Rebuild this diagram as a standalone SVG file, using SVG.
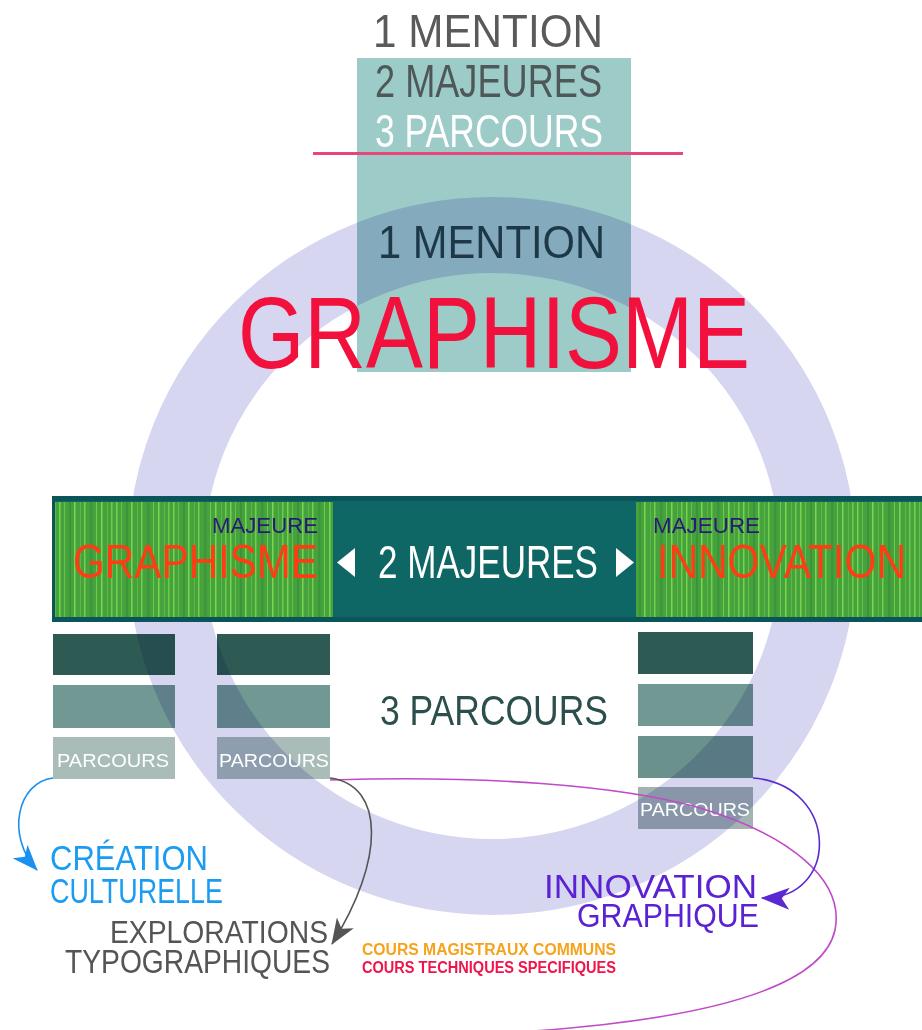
<svg xmlns="http://www.w3.org/2000/svg" width="922" height="1030" viewBox="0 0 922 1030">
<style>
text{font-family:"Liberation Sans",Arial,sans-serif;}
.t{font-size:46px;}
.maj{font-size:22px;fill:#2a1a78;}
.majbig{font-size:49px;fill:#ff3c14;}
.pl{font-size:19px;fill:#fff;}
.dk{fill:#2d5b53;}
.md{fill:#719893;}
.lt{fill:#aabcb8;}
.cap{font-size:16px;font-weight:bold;}
.conn{fill:none;stroke-width:1.6;}
</style>
<defs>
<pattern id="stripes" patternUnits="userSpaceOnUse" x="0" y="0" width="57" height="10">
<rect width="57" height="10" fill="#45a23c"/>
<rect x="2" width="1.5" height="10" fill="#78d24c"/>
<rect x="7" width="1" height="10" fill="#66c246"/>
<rect x="12" width="2" height="10" fill="#3a943a"/>
<rect x="17" width="1.5" height="10" fill="#7ad64c"/>
<rect x="23" width="1" height="10" fill="#5fb844"/>
<rect x="27" width="1.5" height="10" fill="#74cf4a"/>
<rect x="33" width="2.5" height="10" fill="#3d963b"/>
<rect x="39" width="1" height="10" fill="#6ccb48"/>
<rect x="44" width="1.5" height="10" fill="#7ad64c"/>
<rect x="50" width="1" height="10" fill="#5fb844"/>
<rect x="54" width="1.5" height="10" fill="#6ccb48"/>
</pattern>
<marker id="ahBlue" markerUnits="userSpaceOnUse" viewBox="0 0 26 20" refX="25" refY="10" markerWidth="26" markerHeight="20" orient="auto"><path d="M0,0 L26,10 L0,20 L7,10 z" fill="#1a90f0"/></marker>
<marker id="ahGray" markerUnits="userSpaceOnUse" viewBox="0 0 26 20" refX="25" refY="10" markerWidth="28" markerHeight="20" orient="auto"><path d="M0,0 L26,10 L0,20 L7,10 z" fill="#555"/></marker>
<marker id="ahPurple" markerUnits="userSpaceOnUse" viewBox="0 0 26 20" refX="25" refY="10" markerWidth="30" markerHeight="22" orient="auto"><path d="M0,0 L26,10 L0,20 L7,10 z" fill="#5a2ad0"/></marker>
</defs>
<rect width="922" height="1030" fill="#fff"/>

<g id="top-box">
<rect x="357" y="58" width="274" height="314" fill="#9dcbc8"/>
</g>

<g id="parcours-graphisme-1">
<rect class="dk" x="53" y="634" width="122" height="41"/>
<rect class="md" x="53" y="685" width="122" height="43"/>
<rect class="lt" x="53" y="737" width="122" height="42"/>
</g>
<g id="parcours-graphisme-2">
<rect class="dk" x="217" y="634" width="113" height="41"/>
<rect class="md" x="217" y="685" width="113" height="43"/>
<rect class="lt" x="217" y="737" width="113" height="42"/>
</g>
<g id="parcours-innovation">
<rect class="dk" x="638" y="632" width="115" height="42"/>
<rect class="md" x="638" y="684" width="115" height="42"/>
<rect fill="#6a918c" x="638" y="736" width="115" height="42"/>
<rect fill="#a3b3b3" x="638" y="787" width="115" height="42"/>
</g>

<g id="ring" style="mix-blend-mode:multiply">
<ellipse cx="492" cy="556" rx="326" ry="321" fill="none" stroke="#d6d6f1" stroke-width="76"/>
</g>

<g id="majeures-band">
<rect x="52" y="496" width="870" height="126" fill="#0b555a"/>
<rect x="55" y="501" width="867" height="116" fill="#0e6764"/>
<rect x="55" y="502" width="278" height="115" fill="url(#stripes)"/>
<rect x="636" y="502" width="286" height="115" fill="url(#stripes)"/>
</g>

<g id="title-lines">
<text class="t" x="373" y="47" textLength="230" lengthAdjust="spacingAndGlyphs" fill="#5a5a5a">1 MENTION</text>
<text class="t" x="375" y="97" textLength="227" lengthAdjust="spacingAndGlyphs" fill="#4e5858">2 MAJEURES</text>
<text class="t" x="375" y="147" textLength="228" lengthAdjust="spacingAndGlyphs" fill="#fff">3 PARCOURS</text>
<rect x="313" y="152" width="370" height="3" fill="#e8457a"/>
</g>

<g id="mention">
<text class="t" x="378" y="258" textLength="227" lengthAdjust="spacingAndGlyphs" fill="#1d3947">1 MENTION</text>
<text x="238" y="368" font-size="102" textLength="512" lengthAdjust="spacingAndGlyphs" fill="#f2103c">GRAPHISME</text>
</g>

<g id="majeure-graphisme">
<text class="maj" x="212" y="533" textLength="106" lengthAdjust="spacingAndGlyphs">MAJEURE</text>
<text class="majbig" x="73" y="578" textLength="245" lengthAdjust="spacingAndGlyphs">GRAPHISME</text>
</g>
<g id="deux-majeures">
<polygon points="355,548 355,577 337,562.5" fill="#fff"/>
<text class="t" x="378" y="578" textLength="220" lengthAdjust="spacingAndGlyphs" fill="#fff">2 MAJEURES</text>
<polygon points="616,548 616,577 634,562.5" fill="#fff"/>
</g>
<g id="majeure-innovation">
<text class="maj" x="653" y="533" textLength="107" lengthAdjust="spacingAndGlyphs">MAJEURE</text>
<text class="majbig" x="657" y="578" textLength="249" lengthAdjust="spacingAndGlyphs">INNOVATION</text>
</g>

<g id="parcours-labels">
<text x="380" y="725" font-size="42" textLength="228" lengthAdjust="spacingAndGlyphs" fill="#2b4f4d">3 PARCOURS</text>
<text class="pl" x="57" y="767" textLength="112" lengthAdjust="spacingAndGlyphs">PARCOURS</text>
<text class="pl" x="219" y="767" textLength="110" lengthAdjust="spacingAndGlyphs">PARCOURS</text>
<text class="pl" x="640" y="816" textLength="110" lengthAdjust="spacingAndGlyphs">PARCOURS</text>
</g>

<g id="creation-culturelle">
<text x="50" y="870" font-size="35" textLength="158" lengthAdjust="spacingAndGlyphs" fill="#1a9cf2">CRÉATION</text>
<text x="50" y="903" font-size="35" textLength="173" lengthAdjust="spacingAndGlyphs" fill="#1a9cf2">CULTURELLE</text>
</g>
<g id="explorations-typographiques">
<text x="110" y="943" font-size="32" textLength="218" lengthAdjust="spacingAndGlyphs" fill="#555">EXPLORATIONS</text>
<text x="65" y="973" font-size="33" textLength="265" lengthAdjust="spacingAndGlyphs" fill="#555">TYPOGRAPHIQUES</text>
</g>
<g id="innovation-graphique">
<text x="544" y="898" font-size="34" textLength="213" lengthAdjust="spacingAndGlyphs" fill="#5a22d2">INNOVATION</text>
<text x="577" y="927" font-size="34" textLength="182" lengthAdjust="spacingAndGlyphs" fill="#5a22d2">GRAPHIQUE</text>
</g>
<g id="cours-legend">
<text class="cap" x="362" y="955" textLength="254" lengthAdjust="spacingAndGlyphs" fill="#f7a21b">COURS MAGISTRAUX COMMUNS</text>
<text class="cap" x="362" y="973" textLength="254" lengthAdjust="spacingAndGlyphs" fill="#f0144a">COURS TECHNIQUES SPECIFIQUES</text>
</g>

<g id="connectors">
<path class="conn" d="M330 780 C480 775 620 785 700 808 C790 835 845 880 835 930 C822 990 700 1020 520 1032" stroke="#c04ac8" stroke-width="1"/>
<path class="conn" d="M53 778 C18 782 5 835 37 870" stroke="#1a90f0" marker-end="url(#ahBlue)"/>
<path class="conn" d="M330 778 C385 785 385 860 332 944" stroke="#555" marker-end="url(#ahGray)"/>
<path class="conn" d="M753 778 C840 785 840 900 762 898" stroke="#5a2ad0" marker-end="url(#ahPurple)"/>
</g>
</svg>
